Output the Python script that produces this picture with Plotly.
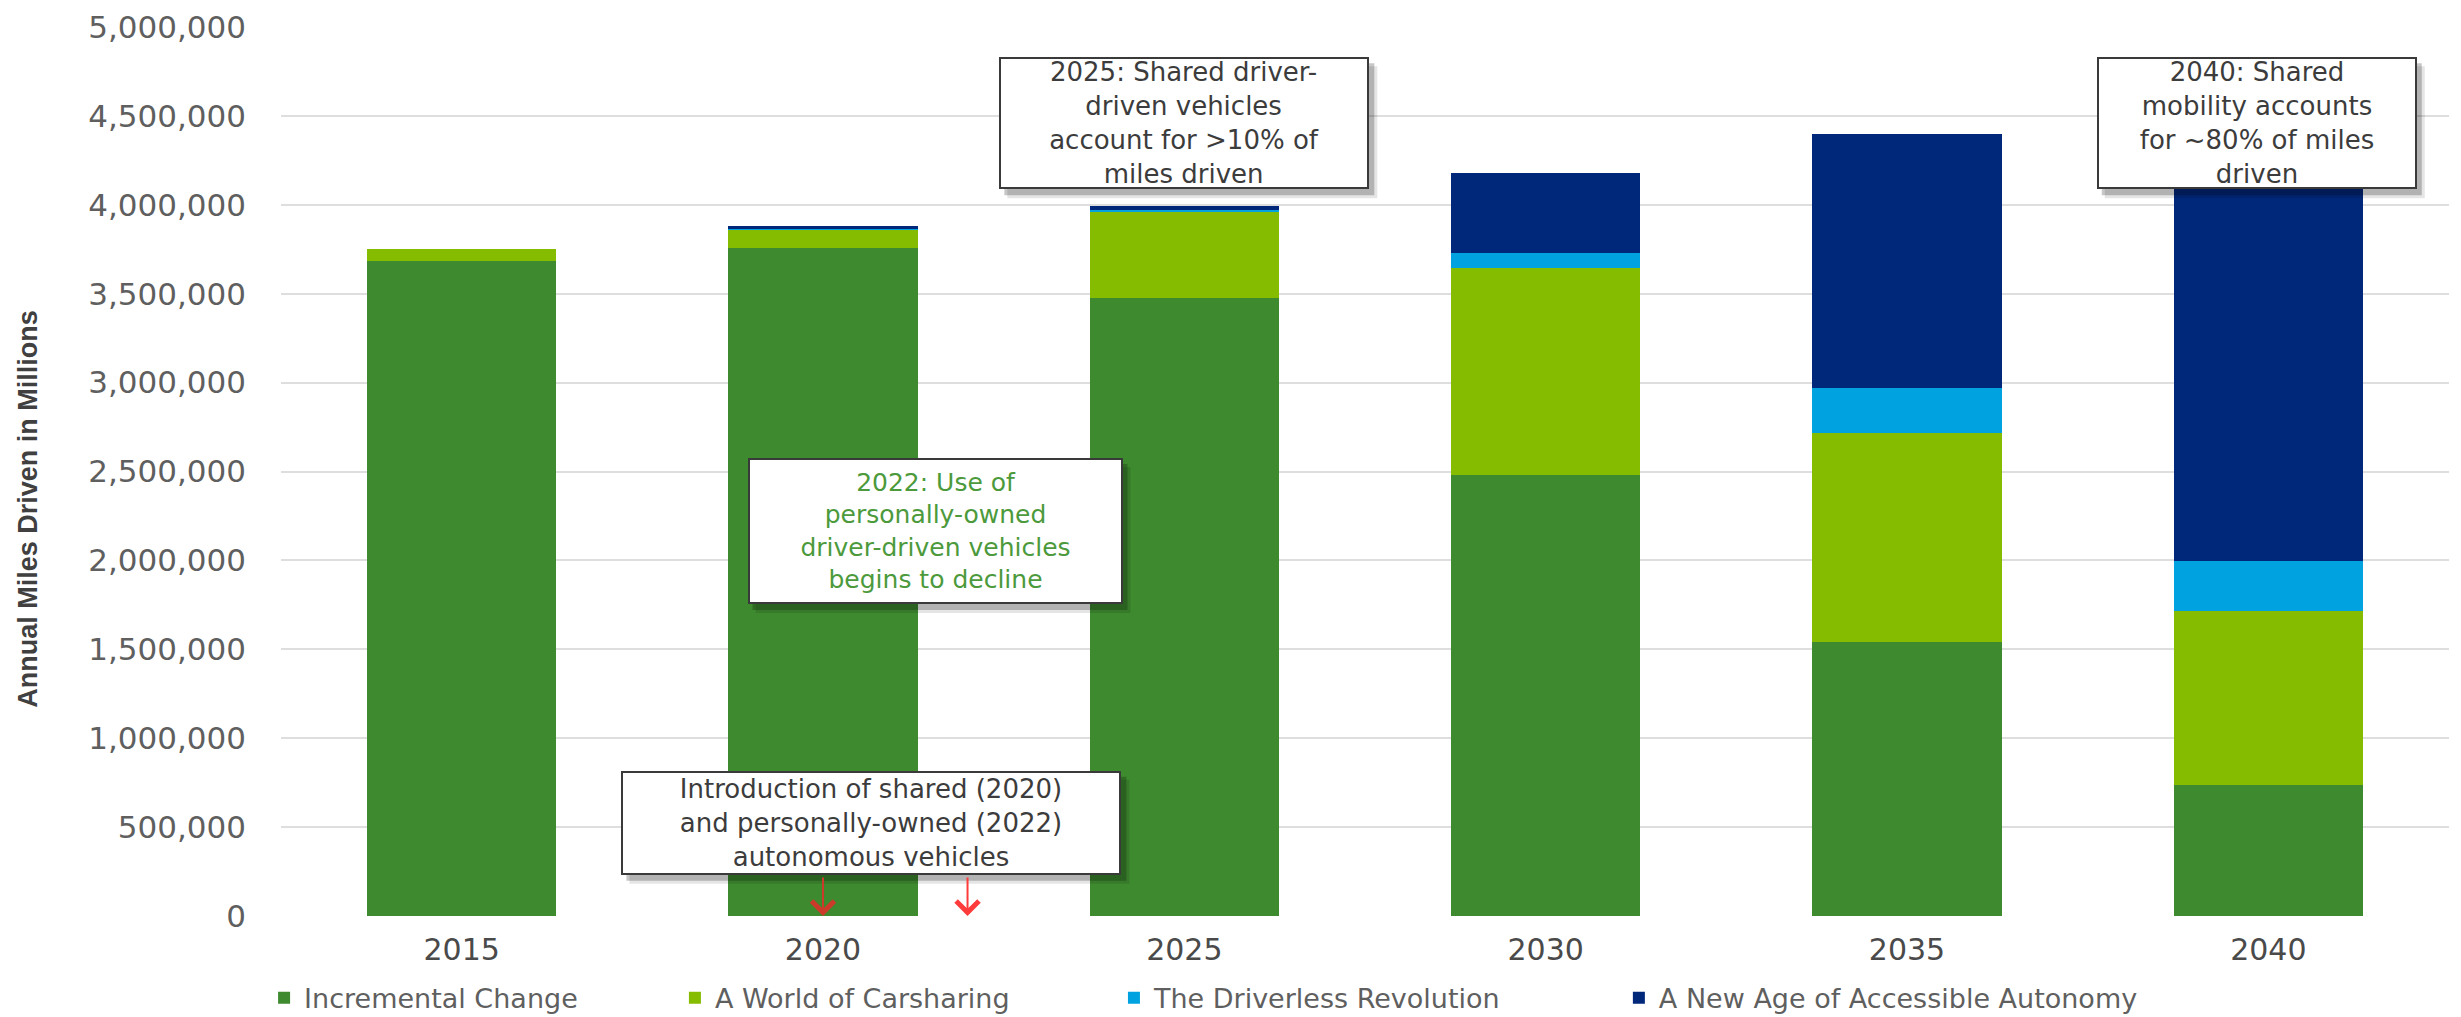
import plotly.graph_objects as go

years = [2015, 2020, 2025, 2030, 2035, 2040]
tick_labels = ["2015", "2020", "2025", "2030", "2035", "2040"]
incremental = [3686000, 3755000, 3475000, 2482000, 1540000, 739000]
carsharing = [64000, 106000, 490000, 1162000, 1177000, 979000]
driverless = [0, 4000, 8000, 84000, 250000, 276000]
new_age = [0, 15000, 23000, 453000, 1433000, 2556000]

series_names = ["Incremental Change", "A World of Carsharing",
                "The Driverless Revolution", "A New Age of Accessible Autonomy"]
series_values = [incremental, carsharing, driverless, new_age]
colors = ["#3E8A2F", "#86BC00", "#00A3E0", "#00287A"]

y_ticks = [0, 500000, 1000000, 1500000, 2000000, 2500000, 3000000,
           3500000, 4000000, 4500000, 5000000]

TICK_FONT = "DejaVu Sans"
GRAY = "#5f5f5f"

legend_ids = ["legend", "legend2", "legend3", "legend4"]
legend_x = [-0.0078, 0.1817, 0.3842, 0.6171]

fig = go.Figure()
for name, vals, col, lid in zip(series_names, series_values, colors, legend_ids):
    fig.add_trace(go.Bar(
        x=years, y=vals, name=name, width=2.62, legend=lid,
        marker=dict(color=col, line=dict(width=0)),
    ))

# annotation boxes: (text, x, y, width, height, color, fontsize)
boxes = [
    ("2025: Shared driver-<br>driven vehicles<br>account for >10% of<br>miles driven",
     2025.0, 4458000, 370, 132, "#3c3c3c", 26),
    ("2040: Shared<br>mobility accounts<br>for ~80% of miles<br>driven",
     2039.84, 4458000, 320, 132, "#3c3c3c", 26),
    ("2022: Use of<br>personally-owned<br>driver-driven vehicles<br>begins to decline",
     2021.55, 2166000, 375, 146, "#4C9A3C", 25),
    ("Introduction of shared (2020)<br>and personally-owned (2022)<br>autonomous vehicles",
     2020.67, 525000, 500, 104, "#3c3c3c", 26),
]

shapes = []
annotations = []
for text, bx, by, w, h, col, fs in boxes:
    for dx, dy, op in [(8, 9, 0.10), (5, 6, 0.22)]:
        shapes.append(dict(
            type="rect", xref="x", yref="y",
            xsizemode="pixel", ysizemode="pixel",
            xanchor=bx, yanchor=by,
            x0=-w / 2 + dx, x1=w / 2 + dx,
            y0=-h / 2 - dy, y1=h / 2 - dy,
            fillcolor="rgba(0,0,0,%s)" % op, line=dict(width=0),
            layer="above",
        ))
    annotations.append(dict(
        x=bx, y=by, xref="x", yref="y", text=text, showarrow=False,
        width=w - 4, height=h - 4, align="center", valign="middle",
        bgcolor="white", bordercolor="#3a3a3a", borderwidth=2, borderpad=0,
        font=dict(family=TICK_FONT, size=fs, color=col),
    ))

# arrows
for ax_year, acol in [(2020, "#cc3a2a"), (2022, "#ff3b3b")]:
    annotations.append(dict(
        x=ax_year, y=0, xref="x", yref="y", text="", showarrow=True,
        ax=0, ay=-40, arrowhead=4, arrowsize=2.2, arrowwidth=2,
        arrowcolor=acol,
    ))

# y axis title
annotations.append(dict(
    x=-0.1167, y=0.458, xref="paper", yref="paper", xanchor="center",
    yanchor="middle",
    text="Annual Miles Driven in Millions", textangle=-90, showarrow=False,
    font=dict(family="Liberation Sans", size=27, color="#404040", weight="bold"),
))

legend_common = dict(
    orientation="h", xanchor="left", y=-0.0926, yanchor="middle",
    font=dict(family=TICK_FONT, size=27, color=GRAY), itemwidth=30,
    bgcolor="rgba(0,0,0,0)",
)
layout_legends = {}
for lid, lx in zip(legend_ids, legend_x):
    layout_legends[lid] = dict(legend_common, x=lx)

# the page adds an 8px body margin, so the figure is 8px smaller
fig.update_layout(
    width=2453, height=1009,
    margin=dict(l=273, r=12, t=19, b=101, autoexpand=False),
    barmode="stack",
    paper_bgcolor="white", plot_bgcolor="white",
    showlegend=True,
    xaxis=dict(
        range=[2012.5, 2042.5], tickvals=years, ticktext=tick_labels,
        showgrid=False, zeroline=False, showline=False, ticks="",
        tickfont=dict(family=TICK_FONT, size=30, color="#4a4a4a"),
        ticklabelstandoff=13,
    ),
    yaxis=dict(
        range=[0, 5000000], tickvals=y_ticks, tickformat=",d",
        showgrid=True, gridcolor="#dedede", gridwidth=2,
        zeroline=False, showline=False, ticks="",
        tickfont=dict(family=TICK_FONT, size=31, color=GRAY),
        ticklabelstandoff=34, ticklabeloverflow="allow",
    ),
    shapes=shapes,
    annotations=annotations,
    **layout_legends,
)

fig.write_html("out.html")
